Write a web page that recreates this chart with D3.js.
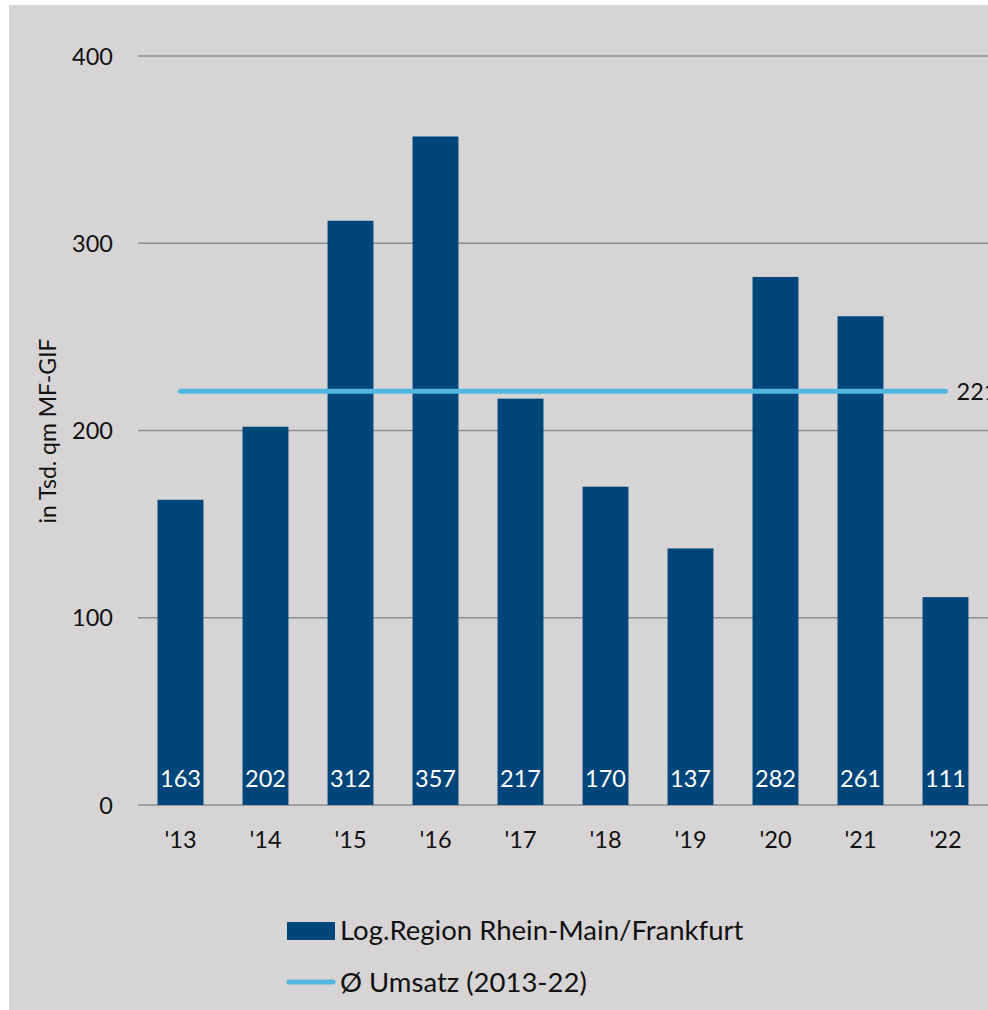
<!DOCTYPE html>
<html>
<head>
<meta charset="utf-8">
<script src="https://cdn.jsdelivr.net/npm/d3@7"></script>
<style>
  body { margin: 0; background: #fff; }
  svg { display: block; font-family: Lato, "Open Sans", sans-serif; }
</style>
</head>
<body>
<div id="chart"></div>
<script>
// chart data
const years = ["'13", "'14", "'15", "'16", "'17", "'18", "'19", "'20", "'21", "'22"];
const umsatz = [163, 202, 312, 357, 217, 170, 137, 282, 261, 111];
const avgValue = 221;
const yTicks = [0, 100, 200, 300, 400];
const legendLabels = ["Log.Region Rhein-Main/Frankfurt", "Ø Umsatz (2013-22)"];

const W = 988, H = 1010;
const margin = {top: 56, right: 0, bottom: 205, left: 138},
    width = W - margin.left - margin.right,
    height = H - margin.top - margin.bottom;

const barColor = "#00467a",
    lineColor = "#52b7e0",
    bg = "#d7d4d5",
    fs = 23.5;

const svg = d3.select("#chart").append("svg")
    .attr("width", W)
    .attr("height", H);

svg.append("rect")
    .attr("x", 9).attr("y", 5)
    .attr("width", W - 9).attr("height", H - 5)
    .attr("fill", bg);

const g = svg.append("g")
    .attr("transform", `translate(${margin.left},${margin.top})`);

const x = d3.scaleBand()
    .domain(years)
    .range([0, width])
    .paddingInner(0.46)
    .paddingOuter(0.23);

const y = d3.scaleLinear()
    .domain([0, 400])
    .range([height, 0]);

// gridlines
g.selectAll(".grid")
    .data(yTicks)
    .enter().append("line")
    .attr("x1", 0).attr("x2", width)
    .attr("y1", d => y(d)).attr("y2", d => y(d))
    .attr("stroke", "#8e8e8e")
    .attr("stroke-width", 1.5);

// y tick labels
g.selectAll(".ytick")
    .data(yTicks)
    .enter().append("text")
    .attr("x", -25)
    .attr("y", d => y(d) + 8.5)
    .attr("text-anchor", "end")
    .attr("font-size", fs)
    .attr("fill", "#111")
    .text(d => d);

// bars
g.selectAll(".bar")
    .data(umsatz)
    .enter().append("rect")
    .attr("x", (d, i) => x(years[i]))
    .attr("y", d => y(d))
    .attr("width", x.bandwidth())
    .attr("height", d => height - y(d))
    .attr("fill", barColor);

// value labels
g.selectAll(".val")
    .data(umsatz)
    .enter().append("text")
    .attr("x", (d, i) => x(years[i]) + x.bandwidth() / 2)
    .attr("y", height - 18)
    .attr("text-anchor", "middle")
    .attr("font-size", fs)
    .attr("fill", "#fff")
    .text(d => d);

// x labels
g.selectAll(".xtick")
    .data(years)
    .enter().append("text")
    .attr("x", d => x(d) + x.bandwidth() / 2)
    .attr("y", height + 43)
    .attr("text-anchor", "middle")
    .attr("font-size", fs)
    .attr("fill", "#111")
    .text(d => d);

// average line
const first = x(years[0]) + x.bandwidth() / 2,
    last = x(years[years.length - 1]) + x.bandwidth() / 2;
g.append("line")
    .attr("x1", first).attr("x2", last)
    .attr("y1", y(avgValue)).attr("y2", y(avgValue))
    .attr("stroke", lineColor)
    .attr("stroke-width", 5)
    .attr("stroke-linecap", "round");

g.append("text")
    .attr("x", last + 11)
    .attr("y", y(avgValue) + 8.5)
    .attr("font-size", fs)
    .attr("fill", "#111")
    .text(avgValue);

// y axis title
svg.append("text")
    .attr("transform", "translate(56,431) rotate(-90)")
    .attr("text-anchor", "middle")
    .attr("font-size", 23)
    .attr("fill", "#111")
    .text("in Tsd. qm MF-GIF");

// legend
const leg = svg.append("g").attr("transform", "translate(287,0)");
leg.append("rect")
    .attr("x", 0).attr("y", 922)
    .attr("width", 48).attr("height", 18)
    .attr("fill", barColor);
leg.append("text")
    .attr("x", 53).attr("y", 940)
    .attr("font-size", 27.5)
    .attr("fill", "#111")
    .text(legendLabels[0]);
leg.append("line")
    .attr("x1", 2).attr("x2", 46)
    .attr("y1", 982).attr("y2", 982)
    .attr("stroke", lineColor)
    .attr("stroke-width", 5)
    .attr("stroke-linecap", "round");
leg.append("text")
    .attr("x", 53).attr("y", 992)
    .attr("font-size", 27.5)
    .attr("fill", "#111")
    .text(legendLabels[1]);
</script>
</body>
</html>
